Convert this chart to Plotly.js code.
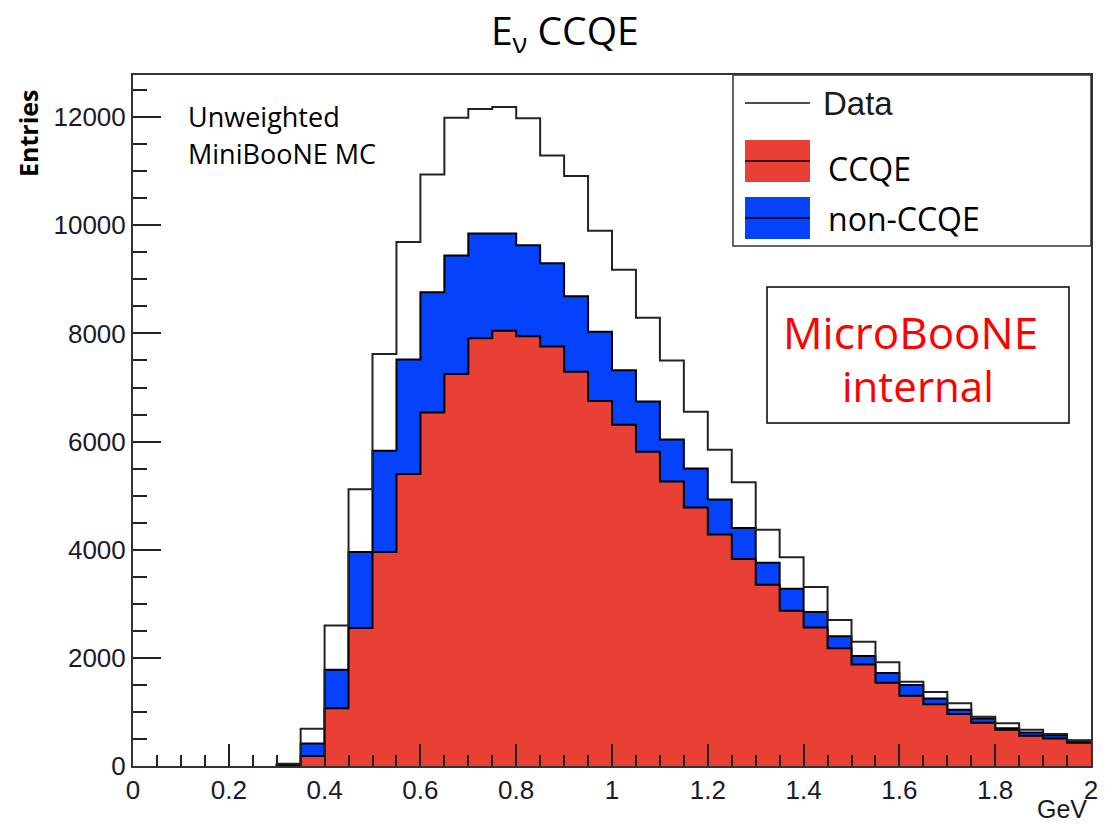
<!DOCTYPE html>
<html>
<head>
<meta charset="utf-8">
<script src="https://cdn.plot.ly/plotly-3.0.1.min.js"></script>
<style>
  html, body { margin: 0; padding: 0; background: #ffffff; }
  #chart { width: 1114px; height: 831px; }
</style>
</head>
<body>
<div id="chart"></div>
<script>
// Reconstructed neutrino energy, histogram bins of 0.05 GeV (lower edges)
const binLow = [0.30, 0.35, 0.40, 0.45, 0.50, 0.55, 0.60, 0.65, 0.70, 0.75,
                0.80, 0.85, 0.90, 0.95, 1.00, 1.05, 1.10, 1.15, 1.20, 1.25,
                1.30, 1.35, 1.40, 1.45, 1.50, 1.55, 1.60, 1.65, 1.70, 1.75,
                1.80, 1.85, 1.90, 1.95];
const binWidth = 0.05;

// Entries per bin
const dataCounts = [40, 690, 2600, 5120, 7620, 9690, 10940, 11990, 12150, 12190,
                    11980, 11290, 10910, 9900, 9180, 8290, 7500, 6550, 5850, 5250,
                    4370, 3860, 3310, 2700, 2300, 1920, 1560, 1370, 1160, 910,
                    790, 670, 590, 470];
const ccqeCounts = [10, 185, 1070, 2550, 3960, 5400, 6540, 7250, 7910, 8050,
                    7950, 7760, 7290, 6750, 6310, 5810, 5260, 4780, 4280, 3830,
                    3350, 2870, 2560, 2180, 1875, 1540, 1300, 1140, 960, 800,
                    670, 560, 510, 430];
const nonCcqeCounts = [10, 230, 710, 1410, 1870, 2120, 2220, 2190, 1940, 1800,
                       1680, 1540, 1400, 1280, 1010, 930, 780, 720, 650, 570,
                       410, 410, 290, 220, 160, 180, 200, 110, 80, 80,
                       30, 60, 60, 40];

const xTickVals = [0, 0.2, 0.4, 0.6, 0.8, 1, 1.2, 1.4, 1.6, 1.8, 2];
const xTickText = ['0', '0.2', '0.4', '0.6', '0.8', '1', '1.2', '1.4', '1.6', '1.8', '2'];
const yTickVals = [0, 2000, 4000, 6000, 8000, 10000, 12000];
const yTickText = ['0', '2000', '4000', '6000', '8000', '10000', '12000'];

const titleText = 'E<sub>ν</sub> CCQE';
const legendLabels = ['Data', 'CCQE', 'non-CCQE'];

// Turn per-bin counts into a step outline (starting from zero at the first edge)
function stepPath(lows, counts) {
  const x = [lows[0]], y = [0];
  for (let i = 0; i < lows.length; i++) {
    x.push(lows[i], lows[i] + binWidth);
    y.push(counts[i], counts[i]);
  }
  return { x, y };
}

const stackCounts = ccqeCounts.map((v, i) => v + nonCcqeCounts[i]);
const stackPath = stepPath(binLow, stackCounts);
const ccqePath = stepPath(binLow, ccqeCounts);
const dataPath = stepPath(binLow, dataCounts);

const RED = '#e84035';
const BLUE = '#0443fb';

const traces = [
  { // stacked total: non-CCQE shows above CCQE
    x: stackPath.x, y: stackPath.y, type: 'scatter', mode: 'lines',
    fill: 'tozeroy', fillcolor: BLUE,
    line: { color: '#000000', width: 2 }, name: legendLabels[2],
    hoverinfo: 'skip'
  },
  {
    x: ccqePath.x, y: ccqePath.y, type: 'scatter', mode: 'lines',
    fill: 'tozeroy', fillcolor: RED,
    line: { color: '#000000', width: 2 }, name: legendLabels[1],
    hoverinfo: 'skip'
  },
  {
    x: dataPath.x, y: dataPath.y, type: 'scatter', mode: 'lines',
    line: { color: '#222222', width: 2 }, name: legendLabels[0],
    hoverinfo: 'skip'
  }
];

// plot-area pixel box, used to place the legend and text boxes
const PA = { l: 133, r: 1091, t: 75, b: 766 };
const px = v => (v - PA.l) / (PA.r - PA.l);
const py = v => (PA.b - v) / (PA.b - PA.t);

const CAL = 'Open Sans, Lato, sans-serif';
const HEL = 'Liberation Sans, Arial, sans-serif';

const shapes = [
  // legend box
  { type: 'rect', xref: 'paper', yref: 'paper', x0: px(733), x1: px(1091), y0: py(246), y1: py(75),
    line: { color: '#333333', width: 1.5 }, fillcolor: '#ffffff', layer: 'above' },
  // Data line sample
  { type: 'line', xref: 'paper', yref: 'paper', x0: px(745), x1: px(810), y0: py(103), y1: py(103),
    line: { color: '#111111', width: 1.5 } },
  // CCQE swatch
  { type: 'rect', xref: 'paper', yref: 'paper', x0: px(745), x1: px(810), y0: py(182), y1: py(140),
    line: { width: 0 }, fillcolor: RED },
  { type: 'line', xref: 'paper', yref: 'paper', x0: px(745), x1: px(810), y0: py(161), y1: py(161),
    line: { color: '#000000', width: 1.5 } },
  // non-CCQE swatch
  { type: 'rect', xref: 'paper', yref: 'paper', x0: px(745), x1: px(810), y0: py(239), y1: py(197),
    line: { width: 0 }, fillcolor: BLUE },
  { type: 'line', xref: 'paper', yref: 'paper', x0: px(745), x1: px(810), y0: py(218), y1: py(218),
    line: { color: '#000000', width: 1.5 } },
  // internal-label box
  { type: 'rect', xref: 'paper', yref: 'paper', x0: px(767), x1: px(1069), y0: py(423), y1: py(287),
    line: { color: '#000000', width: 1.5 }, fillcolor: '#ffffff' }
];

const annotations = [
  { xref: 'paper', yref: 'paper', x: px(821), y: py(104), xanchor: 'left', yanchor: 'middle',
    text: legendLabels[0], showarrow: false, font: { family: HEL, size: 33, color: '#1a1a1a' } },
  { xref: 'paper', yref: 'paper', x: px(826), y: py(168), xanchor: 'left', yanchor: 'middle',
    text: legendLabels[1], showarrow: false, font: { family: CAL, size: 32, color: '#000000' } },
  { xref: 'paper', yref: 'paper', x: px(826), y: py(218), xanchor: 'left', yanchor: 'middle',
    text: legendLabels[2], showarrow: false, font: { family: CAL, size: 32, color: '#000000' } },
  { xref: 'paper', yref: 'paper', x: px(910), y: py(332), xanchor: 'center', yanchor: 'middle',
    text: 'MicroBooNE', showarrow: false, font: { family: CAL, size: 44, color: '#ff0000' } },
  { xref: 'paper', yref: 'paper', x: px(918), y: py(385), xanchor: 'center', yanchor: 'middle',
    text: 'internal', showarrow: false, font: { family: CAL, size: 42, color: '#ff0000' } },
  { xref: 'paper', yref: 'paper', x: px(186), y: py(116), xanchor: 'left', yanchor: 'middle',
    text: 'Unweighted', showarrow: false, font: { family: CAL, size: 27, color: '#000000' } },
  { xref: 'paper', yref: 'paper', x: px(186), y: py(153), xanchor: 'left', yanchor: 'middle',
    text: 'MiniBooNE MC', showarrow: false, font: { family: CAL, size: 27, color: '#000000' } },
  { xref: 'paper', yref: 'paper', x: px(28), y: py(134), xanchor: 'center', yanchor: 'middle',
    text: '<b>Entries</b>', textangle: -90, showarrow: false,
    font: { family: CAL, size: 25, color: '#000000' } },
  { xref: 'paper', yref: 'paper', x: px(1062), y: py(809), xanchor: 'center', yanchor: 'middle',
    text: 'GeV', showarrow: false, font: { family: HEL, size: 25, color: '#1a1a1a' } }
];

const layout = {
  width: 1114, height: 831,
  margin: { l: PA.l, r: 1114 - PA.r, t: PA.t, b: 831 - PA.b, pad: 0 },
  paper_bgcolor: '#ffffff', plot_bgcolor: '#ffffff',
  showlegend: false,
  title: { text: titleText, x: 0.507, xref: 'container', xanchor: 'center',
           y: 1 - 31 / 831, yref: 'container', yanchor: 'middle',
           font: { family: CAL, size: 39, color: '#000000' } },
  xaxis: {
    range: [0, 2], showgrid: false, zeroline: false,
    tickmode: 'array', tickvals: xTickVals, ticktext: xTickText,
    ticks: 'inside', ticklen: 22, tickwidth: 2, tickcolor: '#222222',
    minor: { ticks: 'inside', dtick: 0.05, ticklen: 11, tickwidth: 2, tickcolor: '#222222' },
    showline: true, linecolor: '#333333', linewidth: 2, mirror: true,
    tickfont: { family: HEL, size: 26, color: '#1a1a2a' }
  },
  yaxis: {
    range: [0, 12780], showgrid: false, zeroline: false,
    tickmode: 'array', tickvals: yTickVals, ticktext: yTickText,
    ticks: 'inside', ticklen: 28, tickwidth: 2, tickcolor: '#222222',
    minor: { ticks: 'inside', dtick: 500, ticklen: 14, tickwidth: 2, tickcolor: '#222222' },
    showline: true, linecolor: '#333333', linewidth: 2, mirror: true,
    tickfont: { family: HEL, size: 26, color: '#1a1a2a' }
  },
  shapes: shapes,
  annotations: annotations
};

Plotly.newPlot('chart', traces, layout, { staticPlot: true, displayModeBar: false });
</script>
</body>
</html>
